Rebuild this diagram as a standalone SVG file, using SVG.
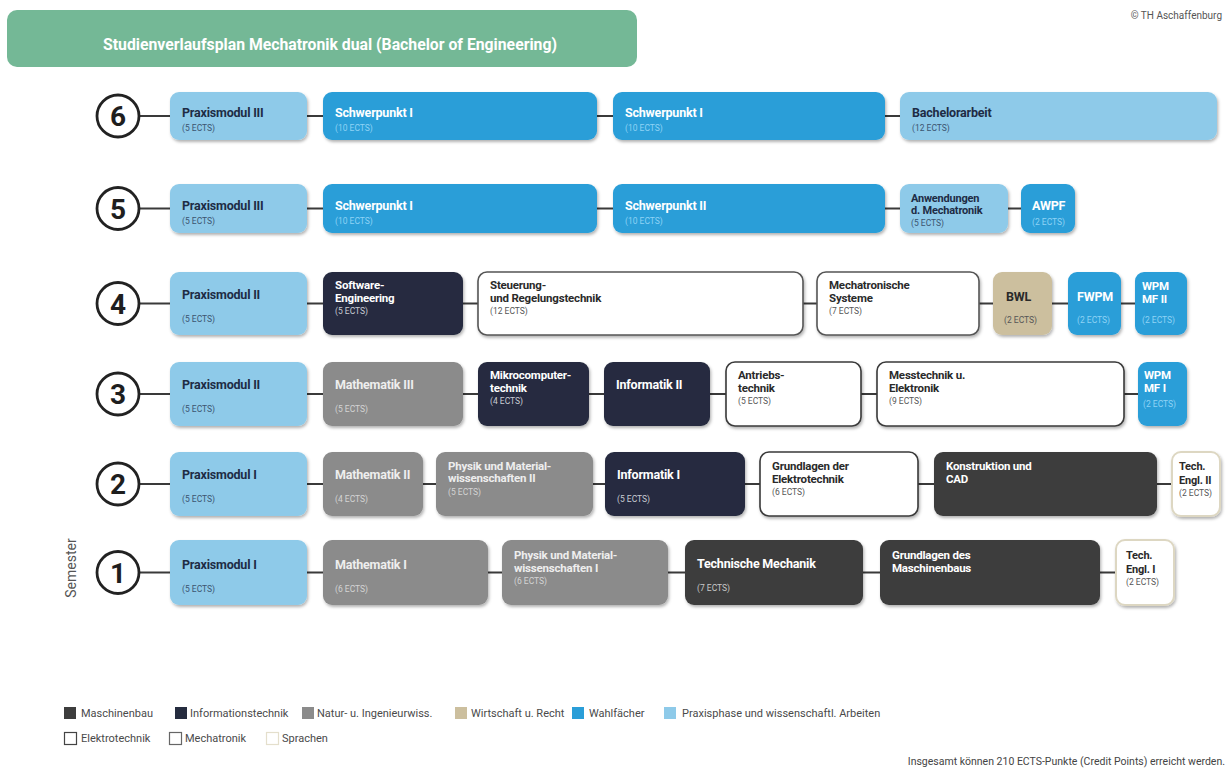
<svg xmlns="http://www.w3.org/2000/svg" width="1231" height="769" viewBox="0 0 1231 769">
<style>
.bg{fill:#ffffff}
.praxis{fill:#8ecae9}
.wahl{fill:#2a9ed8}
.info{fill:#252c3f}
.natur{fill:#8b8b8b}
.masch{fill:#3d3d3d}
.wirt{fill:#ccbf9e}
.elek{fill:#ffffff;stroke:#3a3a3a;stroke-width:1.6}
.mech{fill:#ffffff;stroke:#555555;stroke-width:1.6}
.spr{fill:#ffffff;stroke:#ddd7c2;stroke-width:2}
.box{filter:url(#sh)}
.t{font-family:Roboto,"Liberation Sans",sans-serif;font-weight:700;font-size:12.5px;letter-spacing:-0.2px}
.t2{font-size:11.5px}
.tn{font-size:11px}
.e{font-family:Roboto,"Liberation Sans",sans-serif;font-size:8.5px}
.tp{fill:#1e2c45}.ep{fill:#3b5470}
.tw{fill:#ffffff}.ew{fill:#8fd3f5}
.ei{fill:#c9ccd4}.en{fill:#d4d4d4}.tg{fill:#eeeeee}.em{fill:#c8c8c8}
.td{fill:#2a2a2a}.ed{fill:#555555}
.conn line{stroke:#3a3a3a;stroke-width:2.2}
.circ{fill:#ffffff;stroke:#222222;stroke-width:2.8}
.num{font-family:Roboto,"Liberation Sans",sans-serif;font-weight:700;font-size:28px;fill:#1e1e1e;text-anchor:middle}
.lg{font-family:Roboto,"Liberation Sans",sans-serif;font-size:11px;fill:#4a4a4a}
</style>
<defs>
<filter id="sh" x="-10%" y="-10%" width="130%" height="140%">
<feDropShadow dx="1.2" dy="2" stdDeviation="1.4" flood-color="#000000" flood-opacity="0.3"/>
</filter>
</defs>
<rect class="bg" x="0" y="0" width="1231" height="769"/>

<g id="title">
<rect x="7" y="10" width="630" height="57" rx="10" fill="#74b896"/>
<text x="103" y="50" textLength="454" lengthAdjust="spacingAndGlyphs" font-family="Roboto,'Liberation Sans',sans-serif" font-weight="700" font-size="17" fill="#ffffff">Studienverlaufsplan Mechatronik dual (Bachelor of Engineering)</text>
</g>
<text x="1222" y="19" text-anchor="end" font-family="Roboto,'Liberation Sans',sans-serif" font-size="10" fill="#555555">© TH Aschaffenburg</text>

<g id="connectors" class="conn">
<line x1="139" y1="116" x2="900" y2="116"/>
<line x1="139" y1="208.5" x2="1021" y2="208.5"/>
<line x1="139" y1="303.5" x2="1136" y2="303.5"/>
<line x1="139" y1="394" x2="1138" y2="394"/>
<line x1="139" y1="484" x2="1172" y2="484"/>
<line x1="139" y1="572.5" x2="1116" y2="572.5"/>
</g>

<g id="semesters">
<g id="sem6"><circle class="circ" cx="118" cy="116" r="21"/><text class="num" x="118" y="126">6</text></g>
<g id="sem5"><circle class="circ" cx="118" cy="208.5" r="21"/><text class="num" x="118" y="218.5">5</text></g>
<g id="sem4"><circle class="circ" cx="118" cy="303.5" r="21"/><text class="num" x="118" y="313.5">4</text></g>
<g id="sem3"><circle class="circ" cx="118" cy="394" r="21"/><text class="num" x="118" y="404">3</text></g>
<g id="sem2"><circle class="circ" cx="118" cy="484" r="21"/><text class="num" x="118" y="494">2</text></g>
<g id="sem1"><circle class="circ" cx="118" cy="572.5" r="21"/><text class="num" x="118" y="582.5">1</text></g>
</g>
<text transform="translate(76,568) rotate(-90)" text-anchor="middle" font-family="Roboto,'Liberation Sans',sans-serif" font-size="14" fill="#555555">Semester</text>

<!-- Row 6 -->
<g id="s6-praxis3"><rect class="box praxis" x="170" y="92" width="137" height="48" rx="9"/><text class="t tp" x="182" y="117">Praxismodul III</text><text class="e ep" x="182" y="131">(5 ECTS)</text></g>
<g id="s6-schwerpunkt1a"><rect class="box wahl" x="323" y="92" width="274" height="48" rx="9"/><text class="t tw" x="335" y="117">Schwerpunkt I</text><text class="e ew" x="335" y="131">(10 ECTS)</text></g>
<g id="s6-schwerpunkt1b"><rect class="box wahl" x="613" y="92" width="272" height="48" rx="9"/><text class="t tw" x="625" y="117">Schwerpunkt I</text><text class="e ew" x="625" y="131">(10 ECTS)</text></g>
<g id="s6-bachelorarbeit"><rect class="box praxis" x="900" y="92" width="317" height="48" rx="9"/><text class="t tp" x="912" y="117">Bachelorarbeit</text><text class="e ep" x="912" y="131">(12 ECTS)</text></g>

<!-- Row 5 -->
<g id="s5-praxis3"><rect class="box praxis" x="170" y="184" width="137" height="49" rx="9"/><text class="t tp" x="182" y="210">Praxismodul III</text><text class="e ep" x="182" y="224">(5 ECTS)</text></g>
<g id="s5-schwerpunkt1"><rect class="box wahl" x="323" y="184" width="274" height="49" rx="9"/><text class="t tw" x="335" y="210">Schwerpunkt I</text><text class="e ew" x="335" y="224">(10 ECTS)</text></g>
<g id="s5-schwerpunkt2"><rect class="box wahl" x="613" y="184" width="272" height="49" rx="9"/><text class="t tw" x="625" y="210">Schwerpunkt II</text><text class="e ew" x="625" y="224">(10 ECTS)</text></g>
<g id="s5-anwendungen"><rect class="box praxis" x="900" y="184" width="108" height="49" rx="9"/><text class="t tn tp" x="911" y="202">Anwendungen</text><text class="t tn tp" x="911" y="214">d. Mechatronik</text><text class="e ep" x="911" y="226">(5 ECTS)</text></g>
<g id="s5-awpf"><rect class="box wahl" x="1021" y="184" width="54" height="49" rx="9"/><text class="t tw" x="1032" y="210">AWPF</text><text class="e ew" x="1032" y="225">(2 ECTS)</text></g>

<!-- Row 4 -->
<g id="s4-praxis2"><rect class="box praxis" x="170" y="272" width="137" height="63" rx="9"/><text class="t tp" x="182" y="299">Praxismodul II</text><text class="e ep" x="182" y="322">(5 ECTS)</text></g>
<g id="s4-software"><rect class="box info" x="323" y="272" width="140" height="63" rx="9"/><text class="t t2 tw" x="335" y="289">Software-</text><text class="t t2 tw" x="335" y="301.5">Engineering</text><text class="e ei" x="335" y="314">(5 ECTS)</text></g>
<g id="s4-steuerung"><rect class="box mech" x="478" y="272" width="325" height="63" rx="9"/><text class="t t2 td" x="490" y="289">Steuerung-</text><text class="t t2 td" x="490" y="301.5">und Regelungstechnik</text><text class="e ed" x="490" y="314">(12 ECTS)</text></g>
<g id="s4-mechsys"><rect class="box mech" x="817" y="272" width="162" height="63" rx="9"/><text class="t t2 td" x="829" y="289">Mechatronische</text><text class="t t2 td" x="829" y="301.5">Systeme</text><text class="e ed" x="829" y="314">(7 ECTS)</text></g>
<g id="s4-bwl"><rect class="box wirt" x="993" y="272" width="59" height="63" rx="9"/><text class="t td" x="1006" y="301">BWL</text><text class="e ed" x="1004" y="323">(2 ECTS)</text></g>
<g id="s4-fwpm"><rect class="box wahl" x="1068" y="272" width="53" height="63" rx="9"/><text class="t tw" x="1077" y="301">FWPM</text><text class="e ew" x="1077" y="323">(2 ECTS)</text></g>
<g id="s4-wpm2"><rect class="box wahl" x="1135" y="272" width="52" height="63" rx="9"/><text class="t t2 tw" x="1142" y="290">WPM</text><text class="t t2 tw" x="1142" y="302.5">MF II</text><text class="e ew" x="1142" y="323">(2 ECTS)</text></g>

<!-- Row 3 -->
<g id="s3-praxis2"><rect class="box praxis" x="170" y="362" width="137" height="64" rx="9"/><text class="t tp" x="182" y="389">Praxismodul II</text><text class="e ep" x="182" y="412">(5 ECTS)</text></g>
<g id="s3-mathe3"><rect class="box natur" x="323" y="362" width="140" height="64" rx="9"/><text class="t tg" x="335" y="389">Mathematik III</text><text class="e en" x="335" y="412">(5 ECTS)</text></g>
<g id="s3-mikro"><rect class="box info" x="478" y="362" width="111" height="64" rx="9"/><text class="t t2 tw" x="490" y="379">Mikrocomputer-</text><text class="t t2 tw" x="490" y="391.5">technik</text><text class="e ei" x="490" y="404">(4 ECTS)</text></g>
<g id="s3-info2"><rect class="box info" x="604" y="362" width="106" height="64" rx="9"/><text class="t tw" x="616" y="389">Informatik II</text></g>
<g id="s3-antrieb"><rect class="box elek" x="726" y="362" width="135" height="64" rx="9"/><text class="t t2 td" x="738" y="379">Antriebs-</text><text class="t t2 td" x="738" y="391.5">technik</text><text class="e ed" x="738" y="404">(5 ECTS)</text></g>
<g id="s3-mess"><rect class="box elek" x="877" y="362" width="247" height="64" rx="9"/><text class="t t2 td" x="889" y="379">Messtechnik u.</text><text class="t t2 td" x="889" y="391.5">Elektronik</text><text class="e ed" x="889" y="404">(9 ECTS)</text></g>
<g id="s3-wpm1"><rect class="box wahl" x="1138" y="362" width="49" height="64" rx="9"/><text class="t t2 tw" x="1144" y="379">WPM</text><text class="t t2 tw" x="1144" y="391.5">MF I</text><text class="e ew" x="1143" y="407">(2 ECTS)</text></g>

<!-- Row 2 -->
<g id="s2-praxis1"><rect class="box praxis" x="170" y="452" width="137" height="64" rx="9"/><text class="t tp" x="182" y="479">Praxismodul I</text><text class="e ep" x="182" y="502">(5 ECTS)</text></g>
<g id="s2-mathe2"><rect class="box natur" x="323" y="452" width="100" height="64" rx="9"/><text class="t tg" x="335" y="479">Mathematik II</text><text class="e en" x="335" y="502">(4 ECTS)</text></g>
<g id="s2-physik2"><rect class="box natur" x="436" y="452" width="157" height="64" rx="9"/><text class="t t2 tg" x="448" y="469.5">Physik und Material-</text><text class="t t2 tg" x="448" y="482">wissenschaften II</text><text class="e en" x="448" y="494.5">(5 ECTS)</text></g>
<g id="s2-info1"><rect class="box info" x="605" y="452" width="140" height="64" rx="9"/><text class="t tw" x="617" y="479">Informatik I</text><text class="e ei" x="617" y="502">(5 ECTS)</text></g>
<g id="s2-gde"><rect class="box elek" x="760" y="452" width="158" height="64" rx="9"/><text class="t t2 td" x="772" y="470">Grundlagen der</text><text class="t t2 td" x="772" y="482.5">Elektrotechnik</text><text class="e ed" x="772" y="495">(6 ECTS)</text></g>
<g id="s2-cad"><rect class="box masch" x="934" y="452" width="223" height="64" rx="9"/><text class="t t2 tw" x="946" y="470">Konstruktion und</text><text class="t t2 tw" x="946" y="482.5">CAD</text></g>
<g id="s2-engl2"><rect class="box spr" x="1172" y="452" width="48" height="64" rx="9"/><text class="t tn td" x="1179" y="470">Tech.</text><text class="t tn td" x="1179" y="484">Engl. II</text><text class="e ed" x="1179" y="496">(2 ECTS)</text></g>

<!-- Row 1 -->
<g id="s1-praxis1"><rect class="box praxis" x="170" y="540" width="137" height="65" rx="9"/><text class="t tp" x="182" y="569">Praxismodul I</text><text class="e ep" x="182" y="592">(5 ECTS)</text></g>
<g id="s1-mathe1"><rect class="box natur" x="323" y="540" width="165" height="65" rx="9"/><text class="t tg" x="335" y="569">Mathematik I</text><text class="e en" x="335" y="592">(6 ECTS)</text></g>
<g id="s1-physik1"><rect class="box natur" x="502" y="540" width="166" height="65" rx="9"/><text class="t t2 tg" x="514" y="559">Physik und Material-</text><text class="t t2 tg" x="514" y="571.5">wissenschaften I</text><text class="e en" x="514" y="584">(6 ECTS)</text></g>
<g id="s1-tm"><rect class="box masch" x="685" y="540" width="178" height="65" rx="9"/><text class="t tw" x="697" y="568">Technische Mechanik</text><text class="e em" x="697" y="591">(7 ECTS)</text></g>
<g id="s1-gdm"><rect class="box masch" x="880" y="540" width="220" height="65" rx="9"/><text class="t t2 tw" x="892" y="559">Grundlagen des</text><text class="t t2 tw" x="892" y="571.5">Maschinenbaus</text></g>
<g id="s1-engl1"><rect class="box spr" x="1116" y="540" width="58" height="65" rx="9"/><text class="t tn td" x="1126" y="559">Tech.</text><text class="t tn td" x="1126" y="573">Engl. I</text><text class="e ed" x="1126" y="585">(2 ECTS)</text></g>

<!-- Legend -->
<g id="legend">
<rect x="64" y="707" width="12" height="12" class="masch"/><text class="lg" x="81" y="717">Maschinenbau</text>
<rect x="175" y="707" width="12" height="12" class="info"/><text class="lg" x="190" y="717">Informationstechnik</text>
<rect x="302" y="707" width="12" height="12" class="natur"/><text class="lg" x="317" y="717">Natur- u. Ingenieurwiss.</text>
<rect x="455" y="707" width="12" height="12" class="wirt"/><text class="lg" x="471" y="717">Wirtschaft u. Recht</text>
<rect x="572" y="707" width="12" height="12" class="wahl"/><text class="lg" x="589" y="717">Wahlfächer</text>
<rect x="664" y="707" width="12" height="12" class="praxis"/><text class="lg" x="682" y="717">Praxisphase und wissenschaftl. Arbeiten</text>
<rect x="64.5" y="732.5" width="12" height="12" fill="#ffffff" stroke="#444444" stroke-width="1.2"/><text class="lg" x="81" y="742">Elektrotechnik</text>
<rect x="169.5" y="732.5" width="12" height="12" fill="#ffffff" stroke="#666666" stroke-width="1.2"/><text class="lg" x="185" y="742">Mechatronik</text>
<rect x="266.5" y="732.5" width="12" height="12" fill="#ffffff" stroke="#e4dfcc" stroke-width="1.2"/><text class="lg" x="282" y="742">Sprachen</text>
</g>
<text x="1225" y="765" text-anchor="end" font-family="Roboto,'Liberation Sans',sans-serif" font-size="10.5" fill="#444444">Insgesamt können 210 ECTS-Punkte (Credit Points) erreicht werden.</text>
</svg>
